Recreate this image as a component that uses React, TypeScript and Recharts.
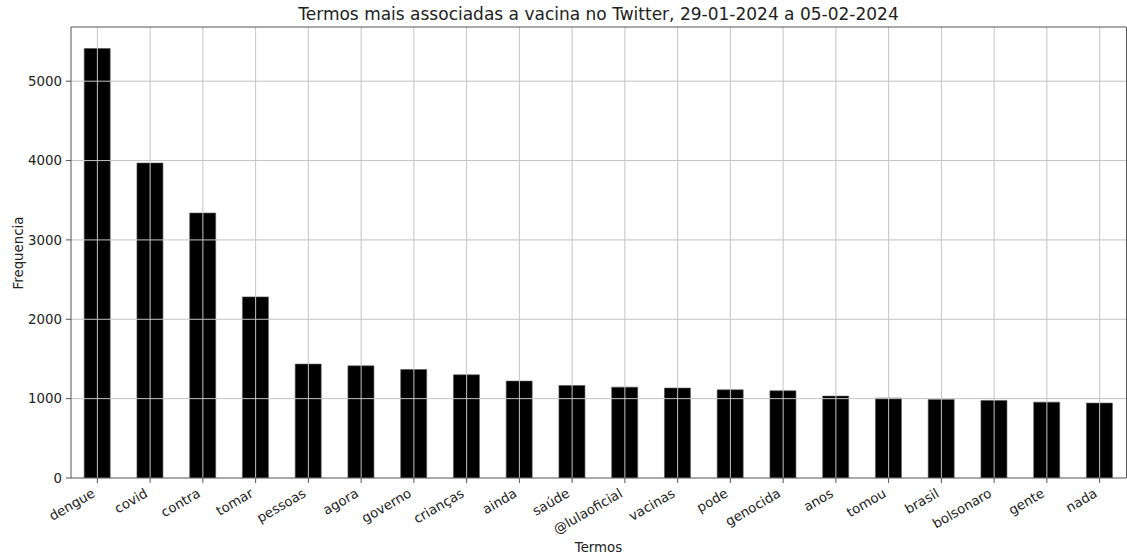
import React from 'react';
import { BarChart, Bar, XAxis, YAxis, ReferenceLine } from 'recharts';

const terms = [
  'dengue', 'covid', 'contra', 'tomar', 'pessoas', 'agora', 'governo', 'crianças', 'ainda', 'saúde',
  '@lulaoficial', 'vacinas', 'pode', 'genocida', 'anos', 'tomou', 'brasil', 'bolsonaro', 'gente', 'nada',
];
const counts = [5412, 3969, 3339, 2282, 1435, 1413, 1367, 1300, 1221, 1166, 1145, 1133, 1111, 1099, 1032, 1007, 989, 977, 956, 944];
const yTicks = [0, 1000, 2000, 3000, 4000, 5000];
const yMax = 5683;

const FONT = "'DejaVu Sans', sans-serif";
const TEXT = '#222';
const SPINE = '#555';
const GRID = '#c4c4c4';

const data = terms.map((t, i) => ({ term: t, freq: counts[i] }));

// rotated labels, right edge of the box sits on the tick like matplotlib's ha='right'
const XTick = (props: any) => {
  const { x, payload } = props;
  const ex = x - 1.5;
  const ey = 496;
  return (
    <g transform={`translate(${ex}, ${ey}) rotate(-30)`}>
      <text x={0} y={0} textAnchor="end" fontSize={13.33} fontFamily={FONT} fill={TEXT}>
        {payload.value}
      </text>
    </g>
  );
};

export default function App() {
  return (
    <div style={{ position: 'absolute', left: 0, top: 0, width: 1127, height: 557, background: '#fff', fontFamily: FONT }}>
      <div style={{ position: 'absolute', left: 0, width: 1197, top: 4, textAlign: 'center', fontSize: 17, color: TEXT }}>
        Termos mais associadas a vacina no Twitter, 29-01-2024 a 05-02-2024
      </div>
      <div style={{ position: 'absolute', left: 18, top: 253, fontSize: 13.33, color: TEXT, transform: 'translate(-50%, -50%) rotate(-90deg)', whiteSpace: 'nowrap' }}>
        Frequencia
      </div>
      <div style={{ position: 'absolute', left: 598.5, top: 547, fontSize: 13.33, color: TEXT, transform: 'translate(-50%, -50%)', whiteSpace: 'nowrap' }}>
        Termos
      </div>
      <div style={{ position: 'absolute', left: 0, top: 0 }}>
        <BarChart width={1127} height={557} data={data} margin={{ top: 27, right: 1, bottom: 0, left: 0 }} barCategoryGap="25%">
          <XAxis dataKey="term" height={79} interval={0} tick={<XTick />} tickSize={5} tickMargin={0}
            axisLine={{ stroke: SPINE, strokeWidth: 1 }} tickLine={{ stroke: SPINE }} />
          <YAxis width={71} domain={[0, yMax]} ticks={yTicks} allowDataOverflow tickSize={5} tickMargin={4}
            tick={{ fontSize: 13.33, fontFamily: FONT, fill: TEXT }}
            axisLine={{ stroke: SPINE, strokeWidth: 1 }} tickLine={{ stroke: SPINE }} />
          <Bar dataKey="freq" fill="#000" stroke="#555" strokeWidth={0.6} isAnimationActive={false} />
          {yTicks.slice(1).map(v => (
            <ReferenceLine key={'y' + v} y={v} stroke={GRID} strokeWidth={1} />
          ))}
          {terms.map(t => (
            <ReferenceLine key={'x' + t} x={t} stroke={GRID} strokeWidth={1} />
          ))}
          <ReferenceLine y={yMax} stroke={SPINE} strokeWidth={1} />
        </BarChart>
      </div>
      <div style={{ position: 'absolute', left: 1125.5, top: 27, width: 1, height: 451, background: SPINE }} />
    </div>
  );
}
